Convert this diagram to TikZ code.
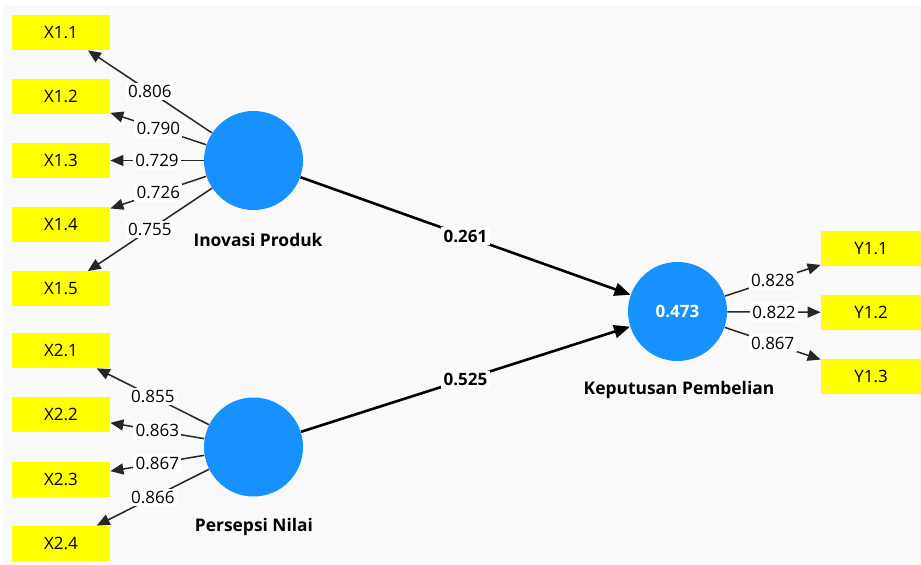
\documentclass[tikz,border=0pt]{standalone}
\usepackage{fontspec}
\setmainfont{Open Sans}
\usetikzlibrary{arrows.meta}

\definecolor{lvblue}{RGB}{22,145,255}
\definecolor{indyellow}{RGB}{255,255,0}
\definecolor{canvas}{RGB}{249,249,249}

\tikzset{
  ind/.style={rectangle,fill=indyellow,minimum width=49pt,minimum height=17.5pt,
    inner sep=0pt,font=\fontsize{8.5}{10}\selectfont},
  lv/.style={circle,fill=lvblue,minimum size=49.5pt,inner sep=0pt,
    font=\fontsize{8.5}{10}\selectfont\bfseries,text=white},
  lvname/.style={font=\fontsize{8.7}{10}\selectfont\bfseries},
  load/.style={draw=black!85,line width=0.75pt,-{Triangle[length=6.5pt,width=5.5pt]}},
  path/.style={draw=black,line width=1.3pt,-{Triangle[length=8pt,width=6.5pt]}},
  val/.style={fill=white,inner sep=1.2pt,font=\fontsize{8.5}{10}\selectfont},
  pval/.style={fill=white,inner sep=1.2pt,font=\fontsize{8.5}{10}\selectfont\bfseries}
}

\begin{document}
\begin{tikzpicture}[x=0.5pt,y=-0.5pt]

% Canvas
\useasboundingbox (0,0) rectangle (921,565);
\fill[white] (0,0) rectangle (921,565);
\fill[canvas] (3,5) rectangle (921,565);

% Draw the indicators of Inovasi Produk
\node[ind] (x11) at (61,32.5) {X1.1};
\node[ind] (x12) at (61,96.5) {X1.2};
\node[ind] (x13) at (61,160.5) {X1.3};
\node[ind] (x14) at (61,225) {X1.4};
\node[ind] (x15) at (61,289) {X1.5};
% Draw the indicators of Persepsi Nilai
\node[ind] (x21) at (61,350.5) {X2.1};
\node[ind] (x22) at (61,414.5) {X2.2};
\node[ind] (x23) at (61,479.5) {X2.3};
\node[ind] (x24) at (61,543.5) {X2.4};
% Draw the indicators of Keputusan Pembelian
\node[ind,minimum width=50pt] (y11) at (871,248.5) {Y1.1};
\node[ind,minimum width=50pt] (y12) at (871,312.5) {Y1.2};
\node[ind,minimum width=50pt] (y13) at (871,376.5) {Y1.3};

% Draw the latent variables
\node[lv] (ip) at (253.5,160.5) {};
\node[lv] (pn) at (253.5,447) {};
\node[lv] (kp) at (677.5,311.5) {0.473};
\node[lvname] (ipname) at (258,240) {Inovasi Produk};
\node[lvname] (pnname) at (254,527) {Persepsi Nilai};
\node[lvname] (kpname) at (679,390) {Keputusan Pembelian};

% Outer loadings
\draw[load] (ip) -- node[val] {0.806} (x11);
\draw[load] (ip) -- node[val] {0.790} (x12);
\draw[load] (ip) -- node[val] {0.729} (x13);
\draw[load] (ip) -- node[val] {0.726} (x14);
\draw[load] (ip) -- node[val] {0.755} (x15);
\draw[load] (pn) -- node[val] {0.855} (x21);
\draw[load] (pn) -- node[val] {0.863} (x22);
\draw[load] (pn) -- node[val] {0.867} (x23);
\draw[load] (pn) -- node[val] {0.866} (x24);
\draw[load] (kp) -- node[val] {0.828} (y11);
\draw[load] (kp) -- node[val] {0.822} (y12);
\draw[load] (kp) -- node[val] {0.867} (y13);

% Path coefficients
\draw[path] (ip) -- node[pval] {0.261} (kp);
\draw[path] (pn) -- node[pval] {0.525} (kp);

\end{tikzpicture}
\end{document}
